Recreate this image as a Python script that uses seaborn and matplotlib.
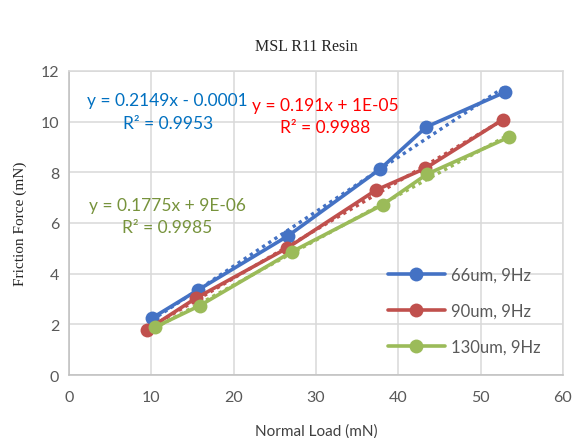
import numpy as np
import pandas as pd
import matplotlib
matplotlib.use("Agg")
import matplotlib.pyplot as plt
import seaborn as sns

# Data
series_names = ["66um, 9Hz", "90um, 9Hz", "130um, 9Hz"]
load_66 = [10.1, 15.7, 26.6, 37.8, 43.4, 53.0]
force_66 = [2.25, 3.36, 5.49, 8.13, 9.79, 11.17]
load_90 = [9.5, 15.4, 26.45, 37.3, 43.3, 52.7]
force_90 = [1.79, 3.03, 5.0, 7.30, 8.16, 10.08]
load_130 = [10.4, 15.9, 27.1, 38.1, 43.5, 53.4]
force_130 = [1.88, 2.74, 4.87, 6.72, 7.93, 9.38]

# Trendline parameters as printed on the chart
slopes = [0.2149, 0.191, 0.1775]
intercepts = [-0.0001, 1e-05, 9e-06]
eq_labels = ["y = 0.2149x - 0.0001\nR² = 0.9953",
             "y = 0.191x + 1E-05\nR² = 0.9988",
             "y = 0.1775x + 9E-06\nR² = 0.9985"]

line_colors = ["#4472C4", "#C0504D", "#9BBB59"]
eq_colors = ["#0070C0", "#FF0000", "#77933C"]
eq_pos = [(12.0, 10.4), (31.1, 10.22), (11.9, 6.28)]

sns.set_style("white")
plt.rcParams['font.family'] = ['Lato', 'DejaVu Sans']

fig = plt.figure(figsize=(5.72, 4.39), dpi=100)
ax = fig.add_axes([0.1206, 0.1435, 0.8635, 0.6925])

loads = [load_66, load_90, load_130]
forces = [force_66, force_90, force_130]
for name, x, y, c in zip(series_names, loads, forces, line_colors):
    df = pd.DataFrame({"load": x, "force": y})
    sns.lineplot(data=df, x="load", y="force", ax=ax, color=c, linewidth=2.6,
                 marker="o", markersize=10, markeredgewidth=0, label=name,
                 sort=False, zorder=3)

# dotted linear trendlines
for x, s, b, c in zip(loads, slopes, intercepts, line_colors):
    xs = np.array([min(x), max(x)])
    ax.plot(xs, s * xs + b, linestyle=(0, (1, 1.2)), color=c, linewidth=2.4, zorder=2)

for txt, (px, py), c in zip(eq_labels, eq_pos, eq_colors):
    ax.text(px, py, txt, color=c, fontsize=12.5, ha="center", va="center",
            linespacing=1.5)

ax.set_xlim(0, 60)
ax.set_ylim(0, 12)
ax.set_xticks(range(0, 61, 10))
ax.set_yticks(range(0, 13, 2))
ax.grid(True, color="#D9D9D9", linewidth=1.1)
ax.set_axisbelow(True)
for sp in ax.spines.values():
    sp.set_color("#D9D9D9")
    sp.set_linewidth(1.1)
ax.spines["left"].set_color("#BFBFBF")
ax.spines["bottom"].set_color("#BFBFBF")
ax.tick_params(axis="both", colors="#595959", labelsize=11.5, length=0)
ax.tick_params(axis="x", pad=11)
ax.tick_params(axis="y", pad=7)

ax.set_xlabel("Normal Load (mN)", fontsize=11, color="#404040", labelpad=14)
ax.set_ylabel("Friction Force (mN)", fontsize=11, color="#262626",
              family="Liberation Serif", labelpad=10)
fig.text(0.535, 0.893, "MSL R11 Resin", fontsize=11.5, family="Liberation Serif",
         color="#262626", ha="center", va="center")

leg = ax.legend(loc="upper left", bbox_to_anchor=(0.646, 0.355), frameon=False,
                fontsize=12, handlelength=3.4, labelspacing=1.2,
                handletextpad=0.35, borderpad=0, borderaxespad=0)
for t in leg.get_texts():
    t.set_color("#595959")

fig.savefig("out.png", dpi=100)
